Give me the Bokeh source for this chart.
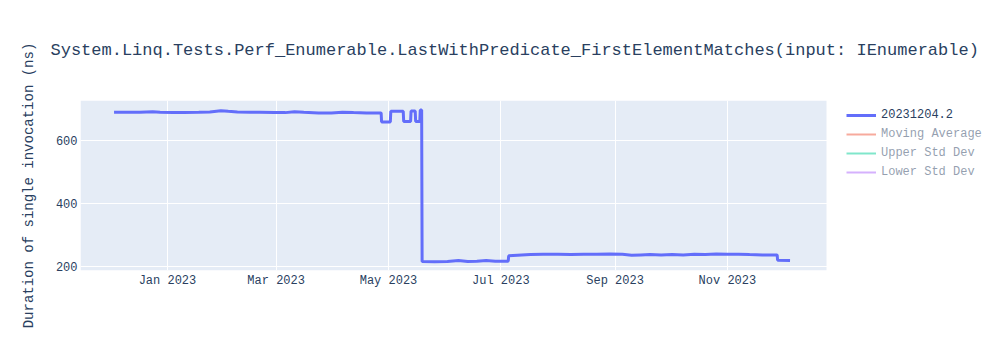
import pandas as pd
from bokeh.plotting import figure
from bokeh.models import (Range1d, FixedTicker, DatetimeTickFormatter,
                          Legend, LegendItem, ColumnDataSource, BoxAnnotation)
from bokeh.embed import file_html
from bokeh.resources import INLINE

TITLE = "System.Linq.Tests.Perf_Enumerable.LastWithPredicate_FirstElementMatches(input: IEnumerable)"
Y_LABEL = "Duration of single invocation (ns)"
SERIES_NAME = "20231204.2"
HIDDEN_NAMES = ["Moving Average", "Upper Std Dev", "Lower Std Dev"]
X_TICKS = ["2023-01-01", "2023-03-01", "2023-05-01", "2023-07-01", "2023-09-01", "2023-11-01"]
Y_TICKS = [200, 400, 600]

dates = [
    "2022-12-03", "2022-12-10", "2022-12-17", "2022-12-24", "2022-12-28",
    "2023-01-04", "2023-01-10", "2023-01-18", "2023-01-24", "2023-01-30",
    "2023-02-03", "2023-02-08", "2023-02-15", "2023-02-20", "2023-02-28",
    "2023-03-06", "2023-03-11", "2023-03-16", "2023-03-24", "2023-03-31",
    "2023-04-06", "2023-04-12", "2023-04-19", "2023-04-27 00:00",
    "2023-04-27 06:00", "2023-05-02 00:00", "2023-05-02 06:00",
    "2023-05-09 00:00", "2023-05-09 06:00", "2023-05-13 00:00", "2023-05-13 06:00",
    "2023-05-15 12:00", "2023-05-15 18:00", "2023-05-18 00:00", "2023-05-18 06:00",
    "2023-05-19 00:00", "2023-05-19 06:00",
    "2023-05-26", "2023-06-02", "2023-06-08", "2023-06-13", "2023-06-18",
    "2023-06-23", "2023-06-28", "2023-07-05 00:00", "2023-07-05 06:00",
    "2023-07-10", "2023-07-17", "2023-07-24", "2023-08-01", "2023-08-08",
    "2023-08-15", "2023-08-22", "2023-08-29", "2023-09-05", "2023-09-10",
    "2023-09-15", "2023-09-20", "2023-09-26", "2023-10-02", "2023-10-08",
    "2023-10-14", "2023-10-20", "2023-10-26", "2023-11-01", "2023-11-07",
    "2023-11-13", "2023-11-20", "2023-11-28 00:00", "2023-11-28 06:00",
    "2023-12-05",
]
values = [
    690, 690, 690, 692, 690,
    689, 689, 690, 691, 695,
    693, 691, 690, 690, 689,
    689, 692, 690, 688, 688,
    690, 689, 688, 688,
    659, 659, 693,
    693, 661, 661, 694,
    694, 661, 661, 697,
    697, 215,
    214, 215, 218, 215, 216,
    218, 216, 216, 233,
    235, 237, 238, 238, 237,
    238, 238, 239, 238, 235,
    236, 237, 236, 237, 236,
    238, 237, 239, 238, 238,
    237, 236, 236, 219,
    218,
]

# plot-area x extent (data), and the y extent
x_start = pd.Timestamp("2022-11-14 19:00").value / 1e6
x_end = pd.Timestamp("2023-12-24 19:00").value / 1e6
y_start, y_end = 186.3, 727.6

TEXT = "#2a3f5f"
FONT = "Liberation Mono"
PLOT_W = 746      # plotting-area width in px
FRAME_W = 920     # frame width (plotting area + legend area)
frame_end = x_start + (x_end - x_start) * FRAME_W / PLOT_W

p = figure(width=1000, height=350, output_backend="svg", toolbar_location=None,
           x_axis_type="datetime",
           x_range=Range1d(x_start, frame_end), y_range=Range1d(y_start, y_end),
           min_border_left=80, min_border_right=0, min_border_top=100, min_border_bottom=80)

p.background_fill_color = "white"
p.border_fill_color = "white"
p.outline_line_color = None

plot_bg = BoxAnnotation(left=x_start, right=x_end, fill_color="#e5ecf6", fill_alpha=1,
                        line_alpha=0, level="image")
p.add_layout(plot_bg)

p.title.text = TITLE
p.title.text_font = FONT
p.title.text_font_size = "17px"
p.title.text_font_style = "normal"
p.title.text_color = TEXT
p.title.align = "left"
p.title.vertical_align = "top"
p.title.offset = -30
p.title.standoff = 78

src = ColumnDataSource(dict(x=pd.to_datetime(dates, format="mixed"), y=values))
r_main = p.line("x", "y", source=src, line_color="#636efa", line_width=3)

hidden_colors = ["#EF553B", "#00cc96", "#ab63fa"]
hidden = []
for c in hidden_colors:
    r = p.line("x", "y", source=src, line_color=c, line_width=2)
    r.visible = False
    hidden.append(r)

xa = p.xaxis[0]
xa.ticker = FixedTicker(ticks=[pd.Timestamp(t).value / 1e6 for t in X_TICKS])
xa.formatter = DatetimeTickFormatter(months="%b %Y", days="%b %Y", years="%b %Y")
ya = p.yaxis[0]
ya.ticker = FixedTicker(ticks=Y_TICKS)
ya.axis_label = Y_LABEL
ya.axis_label_text_font = FONT
ya.axis_label_text_font_size = "14px"
ya.axis_label_text_font_style = "normal"
ya.axis_label_text_color = TEXT
ya.axis_label_standoff = 16

for ax in (xa, ya):
    ax.axis_line_color = None
    ax.major_tick_line_color = None
    ax.minor_tick_line_color = None
    ax.major_tick_out = 0
    ax.minor_tick_out = 0
    ax.major_label_text_font = FONT
    ax.major_label_text_font_size = "12px"
    ax.major_label_text_color = TEXT
xa.major_label_standoff = 3
ya.major_label_standoff = 3

for g in (p.xgrid[0], p.ygrid[0]):
    g.grid_line_color = "white"
    g.grid_line_width = 1
p.xgrid[0].ticker = xa.ticker
p.ygrid[0].ticker = ya.ticker

items = [LegendItem(label=SERIES_NAME, renderers=[r_main])]
for n, r in zip(HIDDEN_NAMES, hidden):
    items.append(LegendItem(label=n, renderers=[r]))

legend = Legend(items=items, location=(761, 85), margin=0, padding=5,
                glyph_width=30, glyph_height=16, label_height=16, spacing=3,
                label_standoff=5, label_text_font=FONT, label_text_font_size="12px",
                label_text_color=TEXT, background_fill_alpha=0, border_line_alpha=0,
                inactive_fill_color="white", inactive_fill_alpha=0.5,
                click_policy="hide")
p.add_layout(legend, "center")

open("out.html", "w").write(file_html(p, INLINE))
